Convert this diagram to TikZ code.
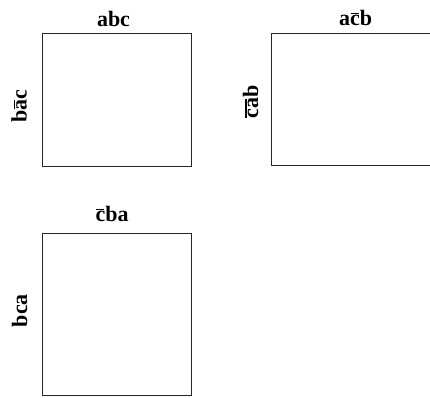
\documentclass[tikz,border=0pt]{standalone}
\usepackage{fontspec}
\setmainfont{Liberation Serif}
% letters with a bar drawn just above the x-height
\newcommand\barred[1]{\setbox0\hbox{#1}\rlap{\hspace{0.04em}\rule[0.52em]{\dimexpr\wd0-0.08em\relax}{0.07em}}\box0}
\begin{document}
\begin{tikzpicture}[x=1pt,y=-1pt,
  panel/.style={draw=black!85,line width=1.1pt,inner sep=0pt,anchor=north west},
  lbl/.style={font=\fontsize{22}{26}\selectfont\bfseries,inner sep=0pt,anchor=base},
  vlbl/.style={lbl,rotate=90}]
  \clip (0,0) rectangle (430,397);
  \fill[white] (0,0) rectangle (430,397);
  % three panels
  \node[panel,minimum width=149pt,minimum height=133pt] (p1) at (42,32.5) {};
  \node[panel,minimum width=180pt,minimum height=132.5pt] (p2) at (270.5,32.5) {};
  \node[panel,minimum width=149pt,minimum height=162pt] (p3) at (42,233.3) {};
  % top labels
  \node[lbl] (t1) at (113.5,26) {abc};
  \node[lbl] (t2) at (355.5,25.5) {a\barred{c}b};
  \node[lbl] (t3) at (112,221.5) {\barred{c}ba};
  % side labels
  \node[vlbl] (s1) at (26.5,106) {b\barred{a}c};
  \node[vlbl] (s2) at (258,102) {\barred{ca}b};
  \node[vlbl] (s3) at (27,310.5) {bca};
\end{tikzpicture}
\end{document}
